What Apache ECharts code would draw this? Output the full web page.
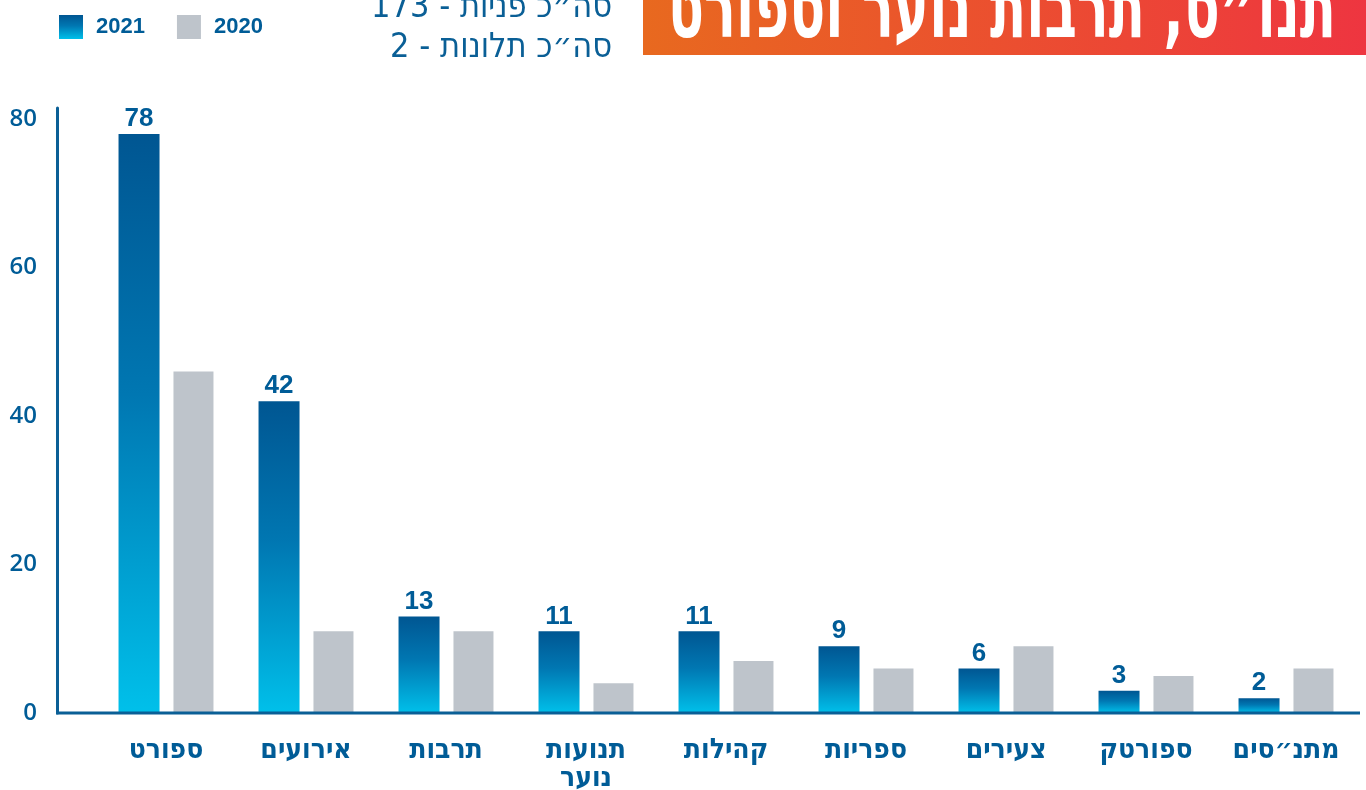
<!DOCTYPE html>
<html lang="he">
<head>
<meta charset="utf-8">
<title>תנו״ס, תרבות נוער וספורט</title>
<script src="https://cdn.jsdelivr.net/npm/echarts@6/dist/echarts.min.js"></script>
<style>
  html, body { margin: 0; padding: 0; background: #fff; }
  #chart { width: 1366px; height: 790px; direction: rtl; }
</style>
</head>
<body>
<div id="chart"></div>
<script>
// Categories (left to right) and yearly counts
const categories = ['ספורט', 'אירועים', 'תרבות', 'תנועות\nנוער', 'קהילות', 'ספריות', 'צעירים', 'ספורטק', 'מתנ״סים'];
const values2021 = [78, 42, 13, 11, 11, 9, 6, 3, 2];
const values2020 = [46, 11, 11, 4, 7, 6, 9, 5, 6];
const seriesNames = ['2021', '2020'];
const yTicks = [0, 20, 40, 60, 80];

const titleText = 'תנו״ס, תרבות נוער וספורט';
const subtitleLines = ['סה״כ פניות - 173', 'סה״כ תלונות - 2'];

const BLUE_TEXT = '#005c97';
const HEB_FONT = '"DejaVu Sans Condensed", "DejaVu Sans", sans-serif';

// Plot layout
const gridLeft = 96, gridRight = 10, gridTop = 108, gridBottom = 77;
const yAxisOffset = 39;
const W = 1366;

const blueGrad = new echarts.graphic.LinearGradient(0, 0, 0, 1, [
  { offset: 0, color: '#005692' },
  { offset: 0.45, color: '#0077b2' },
  { offset: 1, color: '#00c0ea' }
]);

function fitScale(text, font, width) {
  const ctx = document.createElement('canvas').getContext('2d');
  ctx.font = font;
  return width / ctx.measureText(text).width;
}

const titleFont = 'bold 84px ' + HEB_FONT;
const titleScale = fitScale(titleText, titleFont, 668);

const chart = echarts.init(document.getElementById('chart'), null, { renderer: 'canvas' });

const option = {
  animation: false,
  backgroundColor: '#ffffff',
  legend: {
    left: 54,
    top: 10,
    icon: 'rect',
    itemWidth: 24,
    itemHeight: 24,
    itemGap: 32,
    data: seriesNames,
    textStyle: {
      color: BLUE_TEXT,
      fontFamily: '"Liberation Sans", sans-serif',
      fontWeight: 'bold',
      fontSize: 22,
      padding: [0, 0, 0, 8]
    }
  },
  grid: {
    left: gridLeft, right: gridRight, top: gridTop, bottom: gridBottom,
    containLabel: false,
    outerBoundsMode: 'none'
  },
  xAxis: {
    type: 'category',
    data: categories,
    axisLine: { show: false },
    axisTick: { show: false },
    axisLabel: {
      color: BLUE_TEXT,
      fontFamily: HEB_FONT,
      fontWeight: 'bold',
      fontSize: 28,
      lineHeight: 28,
      margin: 24,
      interval: 0
    }
  },
  yAxis: {
    type: 'value',
    min: 0,
    max: 81.5,
    interval: 20,
    offset: yAxisOffset,
    splitLine: { show: false },
    axisTick: { show: false },
    axisLine: { show: true, lineStyle: { color: '#0a5f96', width: 3 } },
    axisLabel: {
      showMaxLabel: false,
      color: BLUE_TEXT,
      fontFamily: '"Open Sans", sans-serif',
      fontWeight: 600,
      fontSize: 24,
      margin: 20,
      formatter: v => (yTicks.includes(v) ? String(v) : '')
    }
  },
  series: [
    {
      name: seriesNames[0],
      type: 'bar',
      data: values2021,
      barWidth: 41,
      barGap: '34%',
      itemStyle: { color: blueGrad },
      label: {
        show: true,
        position: 'top',
        distance: 2,
        color: BLUE_TEXT,
        fontFamily: '"Liberation Sans", sans-serif',
        fontWeight: 'bold',
        fontSize: 26
      }
    },
    {
      name: seriesNames[1],
      type: 'bar',
      data: values2020,
      barWidth: 40,
      itemStyle: { color: '#bec4cb' }
    }
  ]
};

chart.setOption(option);

// Baseline under the whole plot, placed at the value axis zero
const zeroY = chart.convertToPixel({ yAxisIndex: 0 }, 0);
chart.setOption({
  graphic: [
    {
      type: 'line',
      z: 10,
      shape: { x1: gridLeft - yAxisOffset - 1, y1: zeroY, x2: 1360, y2: zeroY },
      style: { stroke: '#0a5f96', lineWidth: 3 }
    },
    // headline banner
    {
      type: 'rect',
      shape: { x: 643, y: 0, width: W - 643, height: 55 },
      style: {
        fill: new echarts.graphic.LinearGradient(0, 0, 1, 0, [
          { offset: 0, color: '#e8691f' },
          { offset: 1, color: '#ee3540' }
        ])
      }
    },
    {
      type: 'text',
      x: 1336,
      y: 57,
      scaleX: titleScale,
      style: {
        text: titleText,
        font: titleFont,
        fill: '#ffffff',
        align: 'right',
        verticalAlign: 'bottom'
      }
    },
    {
      type: 'text',
      x: 612,
      y: -12,
      style: {
        text: subtitleLines.join('\n'),
        font: '34px ' + HEB_FONT,
        lineHeight: 40,
        fill: '#0a5f96',
        align: 'right',
        verticalAlign: 'top'
      }
    }
  ]
});
</script>
</body>
</html>
